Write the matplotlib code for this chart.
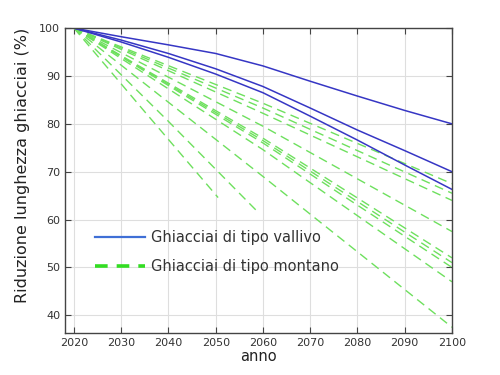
import matplotlib
matplotlib.use("Agg")
from matplotlib import pyplot as plt
from matplotlib.lines import Line2D

# valley glaciers (solid blue)
years_valley = [2020, 2030, 2040, 2050, 2060, 2070, 2080, 2090, 2100]
valley_1 = [100, 98.2, 96.5, 94.7, 92.1, 88.9, 85.8, 82.8, 80.0]
valley_2 = [100, 97.5, 94.7, 91.5, 87.8, 83.3, 78.7, 74.4, 70.0]
valley_3 = [100, 97.1, 93.9, 90.4, 86.5, 81.6, 76.6, 71.4, 66.3]

# mountain glaciers (dashed green): start, mid and end points
mountain_years = [
  [2020, 2060, 2100],
  [2020, 2060, 2100],
  [2020, 2060, 2100],
  [2020, 2060, 2100],
  [2020, 2060, 2100],
  [2020, 2060, 2100],
  [2020, 2060, 2100],
  [2020, 2060, 2100],
  [2020, 2060, 2100],
  [2020, 2040, 2059],
  [2020, 2035, 2050.5],
]
mountain_vals = [
  [100, 84.3, 67.5],
  [100, 83.3, 65.5],
  [100, 82.2, 64.0],
  [100, 79.5, 57.5],
  [100, 77.0, 52.0],
  [100, 76.5, 51.0],
  [100, 76.0, 50.0],
  [100, 74.6, 47.0],
  [100, 69.0, 37.5],
  [100, 80.5, 61.5],
  [100, 82.5, 64.6],
]

x_ticks = [2020, 2030, 2040, 2050, 2060, 2070, 2080, 2090, 2100]
y_ticks = [40, 50, 60, 70, 80, 90, 100]

blue = '#3636c4'
green = '#6ee05e'

fig = plt.figure(figsize=(5, 3.75), dpi=100)
ax = fig.add_axes([0.13, 0.112, 0.774, 0.813])

for yrs, vals in zip(mountain_years, mountain_vals):
  ax.plot(yrs, vals, color=green, lw=1.0, ls=(0, (6.5, 4)))

for vals in [valley_1, valley_2, valley_3]:
  ax.plot(years_valley, vals, color=blue, lw=1.1)

ax.set_xlim(2018.1, 2100)
ax.set_ylim(36.3, 100)
ax.set_xticks(x_ticks)
ax.set_yticks(y_ticks)
ax.grid(True, color='#dedede', lw=0.8)
ax.set_axisbelow(True)
ax.tick_params(direction='in', top=True, right=True, length=4,
               labelsize=8, colors='#444444', labelcolor='#333333')
for s in ax.spines.values():
  s.set_color('#444444')
  s.set_linewidth(1.0)

ax.set_xlabel('anno', fontsize=10.5, color='#222222', labelpad=1)
ax.set_ylabel('Riduzione lunghezza ghiacciai (%)', fontsize=11.5, color='#222222')
ax.yaxis.set_label_coords(-0.09, 0.55)

handles = [
  Line2D([], [], color='#3f6fd6', lw=1.6),
  Line2D([], [], color='#33dd22', lw=2.6, ls=(0, (3.5, 2.5))),
]
ax.legend(handles, ['Ghiacciai di tipo vallivo', 'Ghiacciai di tipo montano'],
          loc='center left', bbox_to_anchor=(0.078, 0.265), frameon=False,
          fontsize=10.5, handlelength=3.4, handletextpad=0.45, labelspacing=1.0,
          borderpad=0, borderaxespad=0, labelcolor='#333333')

fig.savefig('out.png', dpi=100)
